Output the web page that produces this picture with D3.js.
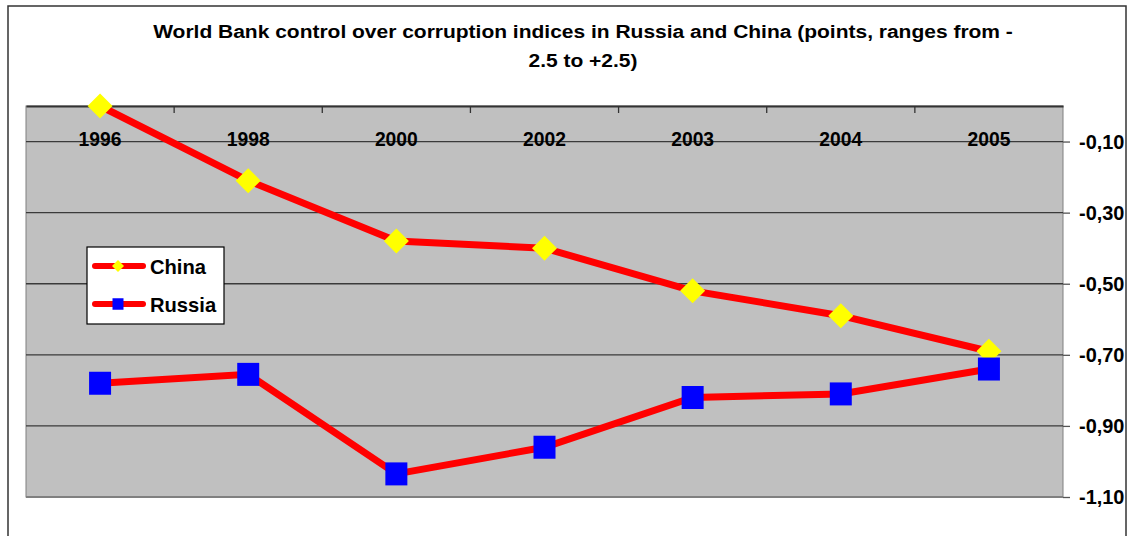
<!DOCTYPE html>
<html>
<head>
<meta charset="utf-8">
<script src="https://cdn.jsdelivr.net/npm/d3@7"></script>
<style>
  body { margin: 0; background: #fff; }
  text { font-family: "Liberation Sans", Arial, sans-serif; font-weight: bold; fill: #000; }
</style>
</head>
<body>
<div id="chart"></div>
<script>
// data
var years = ["1996", "1998", "2000", "2002", "2003", "2004", "2005"];
var china = [0.00, -0.21, -0.38, -0.40, -0.52, -0.59, -0.69];
var russia = [-0.78, -0.755, -1.035, -0.96, -0.82, -0.81, -0.74];
var yTicks = [-0.10, -0.30, -0.50, -0.70, -0.90, -1.10];
var titleLines = ["World Bank control over corruption indices in Russia and China (points, ranges from -", "2.5 to +2.5)"];

var width = 1137, height = 536;
var plot = {left: 26, top: 106, right: 1063, bottom: 497};

var svg = d3.select("#chart").append("svg")
    .attr("width", width)
    .attr("height", height);

// outer frame (runs off the bottom of the picture)
svg.append("rect")
    .attr("x", 8).attr("y", 6)
    .attr("width", 1118).attr("height", 560)
    .attr("fill", "#fff")
    .attr("stroke", "#333")
    .attr("stroke-width", 1.5);

// title, a bit wider than the font's natural width
titleLines.forEach(function(t, i) {
    svg.append("text")
        .attr("x", 0).attr("y", 0)
        .attr("text-anchor", "middle")
        .attr("transform", "translate(583," + (38 + i * 28.5) + ") scale(1.135,1)")
        .style("font-size", "18.5px")
        .text(t);
});

var X = d3.scaleBand()
    .domain(years)
    .range([plot.left, plot.right])
    .paddingInner(0).paddingOuter(0);
var Y = d3.scaleLinear()
    .domain([-1.1, 0])
    .range([plot.bottom, plot.top]);

// plot background
svg.append("rect")
    .attr("x", plot.left).attr("y", plot.top)
    .attr("width", plot.right - plot.left)
    .attr("height", plot.bottom - plot.top)
    .attr("fill", "#c0c0c0")
    .attr("stroke", "#808080")
    .attr("stroke-width", 1);
svg.append("line")
    .attr("x1", plot.left).attr("x2", plot.right)
    .attr("y1", plot.bottom).attr("y2", plot.bottom)
    .attr("stroke", "#808080").attr("stroke-width", 2);

// gridlines
svg.append("g")
    .selectAll("line")
    .data(yTicks.slice(0, -1))
    .join("line")
    .attr("x1", plot.left).attr("x2", plot.right)
    .attr("y1", function(d) { return Y(d); })
    .attr("y2", function(d) { return Y(d); })
    .attr("stroke", "#3a3a3a")
    .attr("stroke-width", 1.3);

// right value axis, comma decimals and a plain hyphen for minus
var yAxis = d3.axisRight(Y)
    .tickValues(yTicks)
    .tickSize(7)
    .tickPadding(9)
    .tickFormat(function(d) { return d.toFixed(2).replace(".", ","); });
var gy = svg.append("g")
    .attr("transform", "translate(" + plot.right + ",0)")
    .call(yAxis);
gy.select(".domain").remove();
gy.selectAll(".tick line").attr("stroke", "#555").attr("stroke-width", 1.3);
gy.selectAll(".tick text")
    .style("font-size", "21px")
    .attr("fill", "#000")
    .attr("x", 16 / 0.95)
    .attr("dy", "0.32em")
    .attr("transform", "scale(0.95,1)");

// category axis along the top, labels inside the plot
var xAxis = d3.axisBottom(X)
    .tickSize(0)
    .tickPadding(25.5);
var gx = svg.append("g")
    .attr("transform", "translate(0," + plot.top + ")")
    .call(xAxis);
gx.select(".domain")
    .attr("stroke", "#333").attr("stroke-width", 2);
gx.selectAll(".tick text")
    .style("font-size", "21px")
    .attr("fill", "#000")
    .attr("transform", "scale(0.92,1)");
gx.selectAll(".boundary")
    .data(years.slice(1))
    .join("line")
    .attr("class", "boundary")
    .attr("x1", function(d) { return X(d); })
    .attr("x2", function(d) { return X(d); })
    .attr("y1", 0).attr("y2", 7)
    .attr("stroke", "#333").attr("stroke-width", 1.3);

var line = d3.line()
    .x(function(d, i) { return X(years[i]) + X.bandwidth() / 2; })
    .y(function(d) { return Y(d); });

var diamond = function(s) { return "M0," + (-s) + "L" + s + ",0L0," + s + "L" + (-s) + ",0Z"; };
var square = function(w, h) { return "M" + (-w / 2) + "," + (-h / 2) + "h" + w + "v" + h + "h" + (-w) + "Z"; };

function drawSeries(values, shape, fill) {
    svg.append("path")
        .datum(values)
        .attr("d", line)
        .attr("fill", "none")
        .attr("stroke", "#ff0000")
        .attr("stroke-width", 7);
    svg.append("g")
        .selectAll("path")
        .data(values)
        .join("path")
        .attr("transform", function(d, i) {
            return "translate(" + (X(years[i]) + X.bandwidth() / 2) + "," + Y(d) + ")";
        })
        .attr("d", shape)
        .attr("fill", fill);
}
drawSeries(china, diamond(12.5), "#ffff00");
drawSeries(russia, square(22, 23), "#0000ff");

// legend
var legend = svg.append("g");
legend.append("rect")
    .attr("x", 87).attr("y", 247)
    .attr("width", 137).attr("height", 77)
    .attr("fill", "#fff")
    .attr("stroke", "#000")
    .attr("stroke-width", 1.2);
var items = [
    {name: "China", y: 266, shape: diamond(6), fill: "#ffff00"},
    {name: "Russia", y: 304, shape: square(11, 11.5), fill: "#0000ff"}
];
items.forEach(function(it) {
    legend.append("line")
        .attr("x1", 95).attr("x2", 143)
        .attr("y1", it.y).attr("y2", it.y)
        .attr("stroke", "#ff0000")
        .attr("stroke-width", 6)
        .attr("stroke-linecap", "round");
    legend.append("path")
        .attr("transform", "translate(118," + it.y + ")")
        .attr("d", it.shape)
        .attr("fill", it.fill);
    legend.append("text")
        .attr("x", 0).attr("y", 0)
        .attr("transform", "translate(150," + (it.y + 7.5) + ") scale(0.96,1)")
        .style("font-size", "21px")
        .text(it.name);
});
</script>
</body>
</html>
